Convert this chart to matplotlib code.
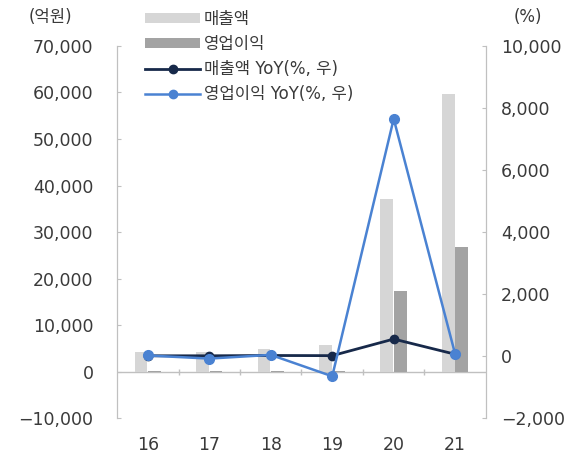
import matplotlib

matplotlib.use("Agg")
import matplotlib.pyplot as plt
import numpy as np
from matplotlib.lines import Line2D
from matplotlib.patches import Patch
from matplotlib.ticker import FuncFormatter

# DejaVu for digits/latin, Noto CJK for the hangul
plt.rcParams["font.family"] = ["DejaVu Sans", "Noto Sans CJK KR"]

# data
years = ["16", "17", "18", "19", "20", "21"]
sales = [4300, 4300, 4800, 5800, 37000, 59600]  # 매출액 (억원)
op_profit = [120, 100, 150, 150, 17400, 26700]  # 영업이익 (억원)
sales_yoy = [10, 10, 20, 15, 550, 60]  # 매출액 YoY (%)
op_yoy = [20, -80, 40, -650, 7650, 60]  # 영업이익 YoY (%)

C_SALES = "#d6d6d6"
C_OP = "#a3a3a3"
C_SALES_YOY = "#17294a"
C_OP_YOY = "#4a82d2"
C_TEXT = "#3a3a3a"
C_AXIS = "#c0c0c0"

fig = plt.figure(figsize=(5.71, 4.55), dpi=100)
ax = fig.add_axes([0.205, 0.081, 0.646, 0.818])
ax2 = ax.twinx()

x = np.arange(len(years))
w = 0.21
ax.bar(x - 0.11, sales, w, color=C_SALES, zorder=2)
ax.bar(x + 0.11, op_profit, w, color=C_OP, zorder=2)
ax.axhline(0, color=C_AXIS, lw=1.0, zorder=1)
# small category separators on the zero line
bounds = np.arange(len(years) - 1) + 0.5
ax.plot(bounds, np.zeros_like(bounds), ls="none", marker="|", ms=5,
        color=C_AXIS, mew=1.0, zorder=1)

ax2.plot(x, sales_yoy, color=C_SALES_YOY, lw=2.0, marker="o", ms=6, zorder=3)
ax2.plot(x, op_yoy, color=C_OP_YOY, lw=1.8, marker="o", ms=7, zorder=4)

ax.set_xlim(-0.5, len(years) - 0.5)
ax.set_ylim(-10000, 70000)
ax.set_yticks(np.arange(-10000, 70001, 10000))
ax2.set_ylim(-2000, 10000)
ax2.set_yticks(np.arange(-2000, 10001, 2000))

fmt = FuncFormatter(lambda v, _: f"{v:,.0f}".replace("-", "\u2212"))
ax.yaxis.set_major_formatter(fmt)
ax2.yaxis.set_major_formatter(fmt)

ax.set_xticks(x, years)
ax.tick_params(axis="x", length=0, pad=13, labelsize=12.5, labelcolor=C_TEXT)
ax.tick_params(axis="y", direction="in", length=3, color=C_AXIS,
               labelsize=12.5, labelcolor=C_TEXT, pad=17)
ax2.tick_params(axis="y", direction="in", length=3, color=C_AXIS,
                labelsize=12.5, labelcolor=C_TEXT, pad=11)

for a in (ax, ax2):
    a.spines["top"].set_visible(False)
    a.spines["bottom"].set_visible(False)
    a.spines["left"].set_color(C_AXIS)
    a.spines["right"].set_color(C_AXIS)

fig.text(0.088, 0.962, "(억원)", ha="center", va="center", fontsize=12, color=C_TEXT)
fig.text(0.925, 0.962, "(%)", ha="center", va="center", fontsize=12, color=C_TEXT)

handles = [
    Patch(facecolor=C_SALES, label="매출액"),
    Patch(facecolor=C_OP, label="영업이익"),
    Line2D([], [], color=C_SALES_YOY, lw=2, marker="o", ms=6, label="매출액 YoY(%, 우)"),
    Line2D([], [], color=C_OP_YOY, lw=1.8, marker="o", ms=6, label="영업이익 YoY(%, 우)"),
]
leg = fig.legend(handles=handles, loc="upper left", bbox_to_anchor=(0.243, 0.993),
                 frameon=False, fontsize=12, handlelength=3.3, handleheight=0.5,
                 handletextpad=0.2, labelspacing=0.42, borderaxespad=0)
for t in leg.get_texts():
    t.set_color(C_TEXT)

fig.savefig("out.png", dpi=100)
